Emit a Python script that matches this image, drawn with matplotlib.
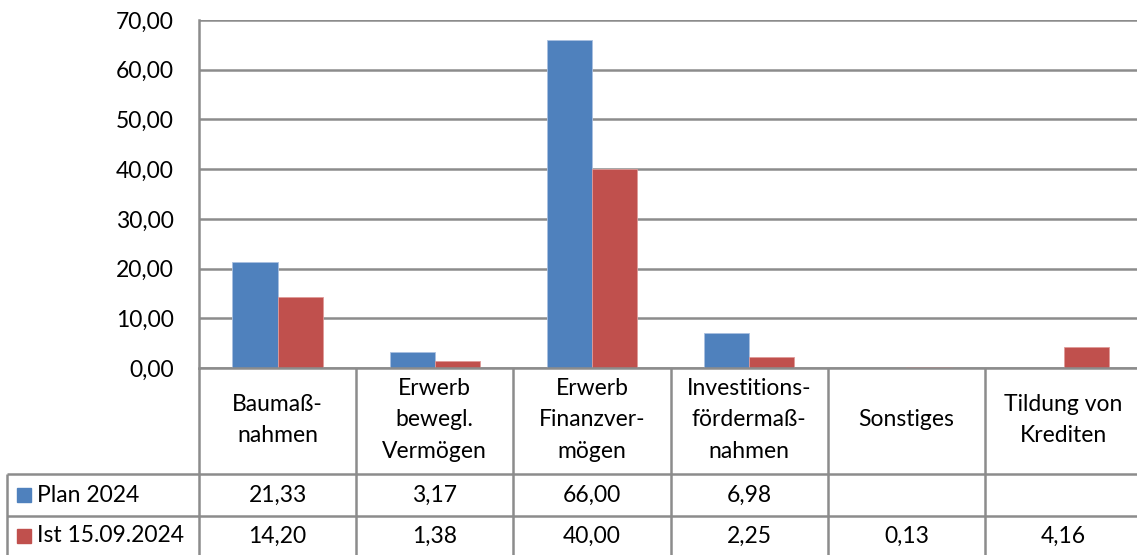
import matplotlib
matplotlib.use("Agg")
import matplotlib.pyplot as plt
import numpy as np

# Daten
kategorien = ["Baumaß-\nnahmen", "Erwerb\nbewegl.\nVermögen", "Erwerb\nFinanzver-\nmögen",
              "Investitions-\nfördermaß-\nnahmen", "Sonstiges", "Tildung von\nKrediten"]
plan = np.array([21.33, 3.17, 66.00, 6.98, np.nan, np.nan])
ist = np.array([14.20, 1.38, 40.00, 2.25, 0.13, 4.16])
serien = ["Plan 2024", "Ist 15.09.2024"]
yticks = np.arange(0, 71, 10)

blau = "#4F81BD"
rot = "#C0504D"
grau = "#8c8c8c"

plt.rcParams["font.family"] = ["Lato", "DejaVu Sans"]
fs = 16.5

def fmt(v):
    return "{:.2f}".format(v).replace(".", ",")

W, H = 1137, 555
colw = (985 - 199) / 5
right = 199 + 6 * colw

fig = plt.figure(figsize=(W / 100, H / 100), dpi=100)

# Balken
ax = fig.add_axes([199 / W, (H - 368) / H, (right - 199) / W, (368 - 20) / H])
x = np.arange(len(kategorien))
bw = 0.287
ax.bar(x - bw / 2, plan, bw, color=blau, edgecolor="#a9c0e0", linewidth=0.6)
ax.bar(x + bw / 2, ist, bw, color=rot, edgecolor="#e09a98", linewidth=0.6)
ax.set_xlim(-0.5, len(kategorien) - 0.5)
ax.set_ylim(0, 70)
ax.set_yticks(yticks)
ax.set_yticklabels([fmt(v) for v in yticks], fontsize=fs)
ax.set_xticks([])
ax.yaxis.grid(True, color=grau, linewidth=1.8)
ax.set_axisbelow(True)
ax.tick_params(axis="y", length=0, pad=18)
for s in ["top", "right"]:
    ax.spines[s].set_visible(False)
for s in ["left", "bottom"]:
    ax.spines[s].set_color(grau)
    ax.spines[s].set_linewidth(1.8)

# Datentabelle
tab = fig.add_axes([199 / W, 0, (right - 199) / W, (H - 368) / H], sharex=ax)
tab.set_ylim(H - 368, 0)
tab.axis("off")
links = -0.5 - (199 - 7) / colw
lkw = dict(color=grau, linewidth=1.8, clip_on=False, solid_capstyle="butt")
for b in np.arange(-0.5, len(kategorien), 1.0):
    tab.plot([b, b], [0, H - 368], **lkw)
tab.plot([links, links], [474 - 368, H - 368], **lkw)
for yy in [474 - 368, 516 - 368]:
    tab.plot([links, len(kategorien) - 0.5], [yy, yy], **lkw)

for i, k in enumerate(kategorien):
    tab.text(i, 420 - 368, k, ha="center", va="center", fontsize=fs, linespacing=1.62)

for zeile, (name, werte, farbe) in enumerate(zip(serien, [plan, ist], [blau, rot])):
    yy = (495 if zeile == 0 else 536) - 368
    tab.plot([-0.5 - (199 - 23.5) / colw], [yy], marker="s", markersize=10.5, color=farbe,
             linestyle="none", clip_on=False)
    tab.text(-0.5 - (199 - 37) / colw, yy, name, ha="left", va="center", fontsize=fs, clip_on=False)
    for i, v in enumerate(werte):
        if not np.isnan(v):
            tab.text(i, yy, fmt(v), ha="center", va="center", fontsize=fs)

fig.savefig("out.png", dpi=100)
